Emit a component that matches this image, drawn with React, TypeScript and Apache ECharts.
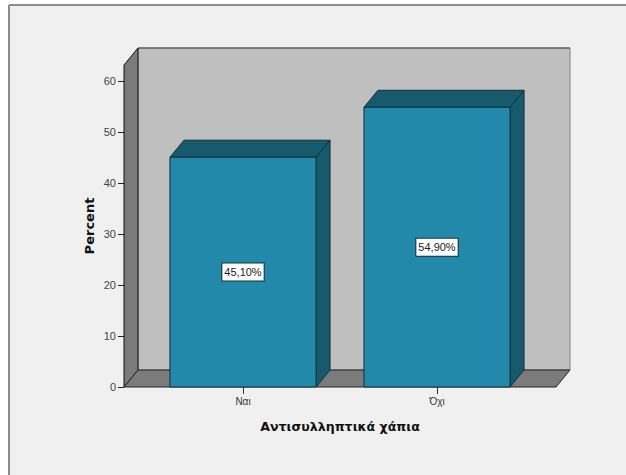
import React, { useEffect, useRef } from "react";
import * as echarts from "echarts";

const categories = ["Ναι", "Όχι"];
const percentValues = [45.1, 54.9];
const percentTicks = [0, 10, 20, 30, 40, 50, 60];
const axisTop = 63.2;
const xTitle = "Αντισυλληπτικά χάπια";
const yTitle = "Percent";

const DEPTH_X = 14;
const DEPTH_Y = 17;
const BAR_RATIO = 0.753;
const WALL_LEFT_OFFSET = 22;
const WALL_RIGHT_OFFSET = 22;

// Back wall, side wall and floor of the 3D plot box.
function renderBox(params: any, api: any) {
  const cs = params.coordSys;
  const left = cs.x - WALL_LEFT_OFFSET;
  const right = cs.x + cs.width + WALL_RIGHT_OFFSET;
  const bottom = api.coord([0, 0])[1];
  const top = api.coord([0, axisTop])[1];
  const edge = "#111";
  return {
    type: "group",
    children: [
      {
        type: "polygon",
        shape: {
          points: [
            [left + DEPTH_X, top - DEPTH_Y],
            [right + DEPTH_X, top - DEPTH_Y],
            [right + DEPTH_X, bottom - DEPTH_Y],
            [left + DEPTH_X, bottom - DEPTH_Y],
          ],
        },
        style: { fill: "#bfbfbf", stroke: "#808080", lineWidth: 1 },
      },
      {
        type: "line",
        shape: { x1: left + DEPTH_X, y1: top - DEPTH_Y, x2: right + DEPTH_X, y2: top - DEPTH_Y },
        style: { stroke: "#4a4a4a", lineWidth: 1 },
      },
      {
        type: "polygon",
        shape: {
          points: [
            [left, top],
            [left + DEPTH_X, top - DEPTH_Y],
            [left + DEPTH_X, bottom - DEPTH_Y],
            [left, bottom],
          ],
        },
        style: { fill: "#7b7b7b", stroke: edge, lineWidth: 1 },
      },
      {
        type: "polygon",
        shape: {
          points: [
            [left, bottom],
            [left + DEPTH_X, bottom - DEPTH_Y],
            [right + DEPTH_X, bottom - DEPTH_Y],
            [right, bottom],
          ],
        },
        style: { fill: "#7b7b7b", stroke: "#222", lineWidth: 1 },
      },
    ],
  };
}

// One extruded bar: front face, top face, side face and its value tag.
function renderBar(params: any, api: any) {
  const index = api.value(0);
  const value = api.value(1);
  const [cx, yTop] = api.coord([index, value]);
  const yBase = api.coord([index, 0])[1];
  const half = (api.size([1, 0])[0] * BAR_RATIO) / 2;
  const l = cx - half;
  const r = cx + half;
  const stroke = "#10303c";
  const shade = "#175a6e";
  return {
    type: "group",
    children: [
      {
        type: "polygon",
        shape: {
          points: [
            [l, yTop],
            [l + DEPTH_X, yTop - DEPTH_Y],
            [r + DEPTH_X, yTop - DEPTH_Y],
            [r, yTop],
          ],
        },
        style: { fill: shade, stroke, lineWidth: 1 },
      },
      {
        type: "polygon",
        shape: {
          points: [
            [r, yTop],
            [r + DEPTH_X, yTop - DEPTH_Y],
            [r + DEPTH_X, yBase - DEPTH_Y],
            [r, yBase],
          ],
        },
        style: { fill: shade, stroke, lineWidth: 1 },
      },
      {
        type: "rect",
        shape: { x: l, y: yTop, width: r - l, height: yBase - yTop },
        style: { fill: "#2389ab", stroke, lineWidth: 1 },
      },
      {
        type: "text",
        x: cx,
        y: (yTop + yBase) / 2,
        style: {
          text: value.toFixed(2).replace(".", ",") + "%",
          align: "center",
          verticalAlign: "middle",
          fill: "#1a1a1a",
          font: '11px "Liberation Sans", Arial, sans-serif',
          backgroundColor: "#ffffff",
          borderColor: "#10303c",
          borderWidth: 1,
          padding: [3, 2, 3, 2],
        },
      },
    ],
  };
}

export default function App() {
  const ref = useRef<HTMLDivElement>(null);

  useEffect(() => {
    document.body.style.margin = "0";
    const chart = echarts.init(ref.current!, undefined, { renderer: "svg" });
    chart.setOption({
      animation: false,
      backgroundColor: "#ffffff",
      graphic: [
        {
          type: "rect",
          z: -10,
          shape: { x: 9, y: 5, width: 617, height: 470 },
          style: { fill: "#f0f0f0" },
        },
        {
          type: "line",
          z: -9,
          shape: { x1: 9, y1: 5, x2: 626, y2: 5 },
          style: { stroke: "#8c8c8c", lineWidth: 2 },
        },
        {
          type: "line",
          z: -9,
          shape: { x1: 9, y1: 5, x2: 9, y2: 475 },
          style: { stroke: "#8c8c8c", lineWidth: 2 },
        },
      ],
      grid: { left: 146, right: 92, top: 65, bottom: 88 },
      xAxis: {
        type: "category",
        data: categories,
        name: xTitle,
        nameLocation: "middle",
        nameGap: 33,
        nameTextStyle: {
          fontFamily: '"DejaVu Sans", sans-serif',
          fontWeight: "bold",
          fontSize: 12.6,
          color: "#111",
        },
        axisLine: { show: false },
        axisTick: { show: true, alignWithLabel: true, length: 7, lineStyle: { color: "#333" } },
        axisLabel: {
          margin: 9,
          fontFamily: '"Liberation Sans", Arial, sans-serif',
          fontSize: 10,
          color: "#333",
        },
      },
      yAxis: {
        type: "value",
        min: 0,
        max: axisTop,
        offset: WALL_LEFT_OFFSET,
        name: yTitle,
        nameLocation: "middle",
        nameRotate: 90,
        nameGap: 28,
        nameMoveOverlap: false,
        nameTextStyle: {
          fontFamily: '"DejaVu Sans", sans-serif',
          fontWeight: "bold",
          fontSize: 13,
          color: "#111",
        },
        splitLine: { show: false },
        axisLine: { show: false },
        axisTick: { show: true, length: 6, customValues: percentTicks, lineStyle: { color: "#222" } },
        axisLabel: {
          margin: 8,
          customValues: percentTicks,
          fontFamily: '"Liberation Sans", Arial, sans-serif',
          fontSize: 11,
          color: "#444",
        },
      },
      series: [
        {
          type: "custom",
          z: 1,
          silent: true,
          renderItem: renderBox,
          data: [[0, 0]],
          encode: { x: 0, y: 1 },
        },
        {
          type: "custom",
          z: 2,
          renderItem: renderBar,
          data: percentValues.map((v, i) => [i, v]),
          encode: { x: 0, y: 1 },
        },
      ],
    });
    return () => chart.dispose();
  }, []);

  return <div ref={ref} style={{ width: 626, height: 475 }} />;
}
